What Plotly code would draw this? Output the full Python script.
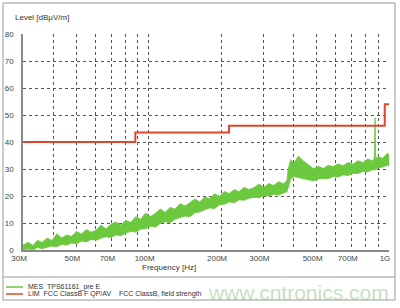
import plotly.graph_objects as go

# ---- data ----
freq_mhz = [30, 31.5, 33, 34.5, 36, 37.8, 39.6, 41.5, 43.5, 45.6, 47.8, 50, 52.5, 55, 57.7,
            60.5, 63.4, 66.5, 69.7, 73, 76.6, 80.3, 84.2, 88.3, 92.5, 97, 101.7, 106.6,
            111.8, 117.2, 122.9, 128.8, 135, 141.6, 148.4, 155.6, 163.1, 171, 179.3, 188,
            197, 206.6, 216.6, 227, 238, 249.6, 261.6, 274.3, 287.6, 301.5, 316, 331.3,
            347.4, 364.2, 376, 381, 390, 401, 420, 441, 462, 485, 508, 533, 559, 586, 614,
            644, 676, 708, 743, 779, 816, 855, 868, 875, 882, 897, 940, 985, 1000]
mes_upper = [1.8, 2.9, 1.7, 3.6, 2.8, 4.4, 3.5, 6.0, 4.4, 5.6, 5.0, 6.9, 5.9, 7.6, 6.6,
             7.4, 9.2, 7.8, 9.5, 10.4, 9.3, 11.0, 10.2, 12.3, 11.4, 13.6, 12.4, 13.5,
             15.2, 13.9, 15.8, 15.1, 17.2, 16.3, 17.5, 18.9, 17.8, 19.6, 19.0, 20.8,
             19.9, 21.7, 20.9, 22.4, 21.6, 23.2, 22.4, 23.1, 24.4, 23.2, 24.6, 23.9,
             25.3, 24.5, 25.8, 30.0, 33.5, 32.0, 34.8, 32.9, 31.6, 30.1, 31.0, 30.2,
             31.4, 30.8, 31.9, 31.2, 32.4, 31.8, 33.1, 32.4, 33.7, 33.0, 34.1, 49.0,
             33.6, 34.6, 34.0, 35.8, 35.3]
mes_lower = [0.0, 0.4, 0.1, 0.9, 0.5, 1.0, 1.5, 1.2, 2.1, 1.8, 2.6, 2.3, 3.3, 3.0, 3.9,
             3.6, 4.4, 4.9, 4.6, 5.6, 5.3, 6.3, 6.9, 6.6, 7.7, 7.9, 8.8, 8.5, 9.8, 10.5,
             10.1, 11.4, 11.9, 12.6, 12.3, 13.8, 14.1, 14.9, 15.6, 15.3, 16.8, 16.9,
             17.8, 17.5, 18.6, 18.4, 19.2, 19.5, 19.3, 20.1, 20.0, 20.6, 20.4, 21.1,
             21.5, 23.8, 26.4, 27.2, 26.8, 26.3, 26.0, 25.6, 26.3, 26.5, 26.4, 27.2,
             27.0, 27.8, 27.6, 28.4, 28.3, 29.1, 28.9, 29.8, 29.6, 30.0, 29.7, 30.4,
             30.7, 31.4, 31.2]

limit_freq_mhz = [30, 88, 88, 216, 216, 960, 960, 1000]
limit_db = [40, 40, 43.5, 43.5, 46, 46, 54, 54]

tick_vals = [30, 40, 50, 60, 70, 80, 90, 100, 200, 300, 400, 500, 600, 700, 800, 900, 1000]
tick_text = ["30M", "", "50M", "", "70M", "", "", "100M", "200M", "300M", "",
             "500M", "", "700M", "", "", "1G"]
y_ticks = [0, 10, 20, 30, 40, 50, 60, 70, 80]

GREEN = "#6cc83c"
RED = "#e0472a"
FONT = "Liberation Sans, Arial, sans-serif"

fig = go.Figure()
fig.add_trace(go.Scatter(
    x=freq_mhz + freq_mhz[::-1], y=mes_upper + mes_lower[::-1],
    fill="toself", fillcolor=GREEN, mode="lines",
    line=dict(color=GREEN, width=0.8), hoverinfo="skip", showlegend=False))
fig.add_trace(go.Scatter(
    x=limit_freq_mhz, y=limit_db, mode="lines",
    line=dict(color=RED, width=2), showlegend=False))

# plot area: x 23..389 px, y 34..250 px
L, R, T, B = 23, 11, 34, 58
W, H = 400, 308
pw, ph = W - L - R, H - T - B


def px(X):
    return (X - L) / pw


def py(Y):
    return (H - B - Y) / ph


fig.update_layout(
    width=W, height=H,
    margin=dict(l=L, r=R, t=T, b=B, autoexpand=False),
    paper_bgcolor="white", plot_bgcolor="white",
    font=dict(family=FONT, size=8, color="#444"),
    showlegend=False,
)
fig.update_xaxes(
    type="log", range=[1.4771, 3.0], tickvals=tick_vals, ticktext=tick_text,
    showgrid=True, gridcolor="#555", griddash="dot", gridwidth=1,
    showline=True, linecolor="#888", linewidth=1.5, ticks="",
    ticklabelshift=-4, ticklabelstandoff=0, zeroline=False, automargin=False,
)
fig.update_yaxes(
    range=[0, 80], tickvals=y_ticks,
    showgrid=True, gridcolor="#555", griddash="dot", gridwidth=1,
    showline=True, linecolor="#888", linewidth=1.5, ticks="",
    ticklabelstandoff=6, zeroline=False, automargin=False,
)

shapes = [
    dict(type="rect", xref="paper", yref="paper", x0=px(3), x1=px(395), y0=py(300), y1=py(3),
         line=dict(color="#999", width=1)),
    dict(type="line", xref="paper", yref="paper", x0=px(3), x1=px(395), y0=py(277), y1=py(277),
         line=dict(color="#999", width=1)),
    dict(type="line", xref="paper", yref="paper", x0=px(6), x1=px(23), y0=py(287), y1=py(287),
         line=dict(color=GREEN, width=1.5)),
    dict(type="line", xref="paper", yref="paper", x0=px(6), x1=px(23), y0=py(294), y1=py(294),
         line=dict(color=RED, width=1.5)),
]
fig.update_layout(shapes=shapes)

ann = [
    dict(text="Level [dBµV/m]", x=px(13), y=py(18), xanchor="left", yanchor="middle",
         font=dict(size=8, color="#333")),
    dict(text="Frequency [Hz]", x=px(169), y=py(267), xanchor="center", yanchor="middle",
         font=dict(size=8, color="#333")),
    dict(text="MES  TPS61161_pre E", x=px(26), y=py(287), xanchor="left", yanchor="middle",
         font=dict(size=7, color="#333")),
    dict(text="LIM  FCC ClassB F QP/AV    FCC ClassB, field strength", x=px(26), y=py(294),
         xanchor="left", yanchor="middle", font=dict(size=7, color="#333")),
    dict(text="www.cntronics.com", x=px(298), y=py(292), xanchor="center", yanchor="middle",
         font=dict(size=21, color="rgba(150,195,140,0.55)", family="Liberation Sans, Arial")),
]
for a in ann:
    a.update(xref="paper", yref="paper", showarrow=False)
fig.update_layout(annotations=ann)

fig.write_html("out.html")
